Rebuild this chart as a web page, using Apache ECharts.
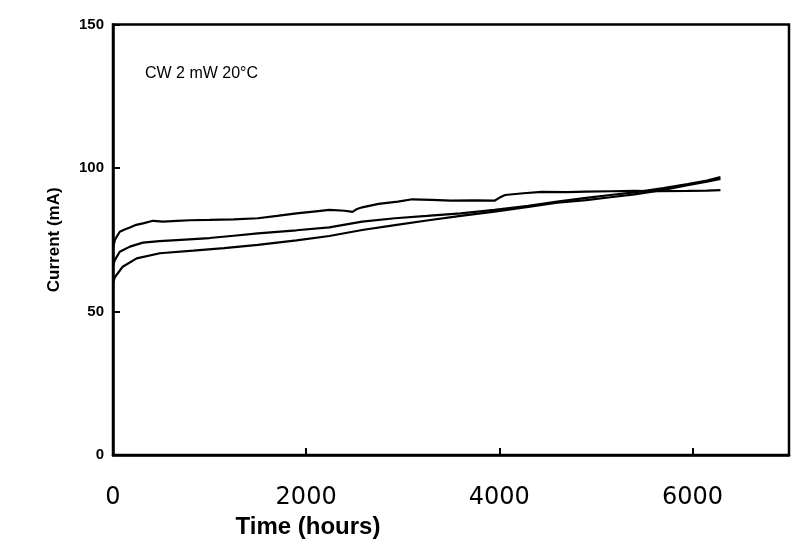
<!DOCTYPE html>
<html>
<head>
<meta charset="utf-8">
<script src="https://cdn.jsdelivr.net/npm/echarts@6/dist/echarts.min.js"></script>
<style>html,body{margin:0;padding:0;background:#fff;}#c{width:792px;height:551px;}</style>
</head>
<body>
<div id="c"></div>
<script>
// Time (hours) / Current (mA) for three devices
const hoursA   = [0, 20, 70, 120, 175, 240, 310, 415, 520, 660, 800, 1000, 1250, 1500, 1700, 1900, 2100, 2240, 2400, 2480, 2520, 2580, 2750, 2950, 3100, 3300, 3500, 3750, 3950, 4000, 4060, 4250, 4440, 4700, 4900, 5150, 5400, 5650, 5950, 6150, 6290];
const currentA = [72, 75, 77.8, 78.6, 79.3, 80.2, 80.7, 81.6, 81.3, 81.6, 81.8, 81.9, 82.1, 82.5, 83.3, 84.2, 84.9, 85.4, 85.1, 84.7, 85.6, 86.3, 87.5, 88.3, 89.1, 88.9, 88.6, 88.7, 88.6, 89.6, 90.6, 91.2, 91.7, 91.6, 91.8, 91.9, 92.0, 91.9, 92.0, 92.1, 92.3];

const hoursB   = [0, 20, 70, 175, 310, 480, 660, 1000, 1250, 1500, 1900, 2240, 2580, 2920, 3250, 3600, 3950, 4300, 4600, 4900, 5150, 5400, 5700, 5950, 6150, 6290];
const currentB = [66, 68, 70.8, 72.6, 74.0, 74.5, 74.9, 75.6, 76.4, 77.2, 78.3, 79.3, 81.3, 82.5, 83.3, 84.2, 85.4, 86.8, 88.3, 89.6, 90.6, 91.5, 93.0, 94.4, 95.6, 96.8];

const hoursC   = [0, 20, 100, 245, 485, 830, 1150, 1500, 1900, 2240, 2580, 2920, 3250, 3600, 3950, 4300, 4600, 4900, 5150, 5400, 5700, 5950, 6150, 6290];
const currentC = [60, 62, 65.6, 68.5, 70.3, 71.2, 72.1, 73.2, 74.8, 76.3, 78.4, 80.1, 81.7, 83.3, 84.8, 86.4, 87.9, 88.8, 89.8, 90.8, 92.4, 94.0, 95.2, 96.2];

const xTicks = [0, 2000, 4000, 6000];
const yTicks = [0, 50, 100, 150];
const annotation = 'CW 2 mW 20°C';

function pairs(xs, ys) { return xs.map((x, i) => [x, ys[i]]); }

const chart = echarts.init(document.getElementById('c'), null, {renderer: 'canvas'});
const lineStyle = {color: '#000', width: 2.2};
chart.setOption({
  animation: false,
  backgroundColor: '#fff',
  grid: {left: 113, right: 3, top: 24.5, bottom: 96, show: true, borderColor: '#000', borderWidth: 2.5, backgroundColor: 'transparent'},
  xAxis: {
    type: 'value', min: xTicks[0], max: 7000, interval: 2000,
    axisLine: {show: true, lineStyle: {color: '#000', width: 2.5}},
    axisTick: {show: true, inside: true, length: 7, lineStyle: {color: '#000', width: 2}},
    splitLine: {show: false},
    axisLabel: {showMaxLabel: false, margin: 31, color: '#000', fontSize: 24, fontFamily: 'DejaVu Sans', formatter: v => String(v)}
  },
  yAxis: {
    type: 'value', min: yTicks[0], max: yTicks[yTicks.length - 1], interval: 50,
    axisLine: {show: true, lineStyle: {color: '#000', width: 2.5}},
    axisTick: {show: true, inside: true, length: 7, lineStyle: {color: '#000', width: 2}},
    splitLine: {show: false},
    axisLabel: {margin: 9, color: '#000', fontSize: 15, fontWeight: 'bold', fontFamily: 'Liberation Sans', formatter: v => String(v)},
    name: 'Current (mA)', nameLocation: 'middle', nameGap: 50, nameRotate: 90,
    nameTextStyle: {color: '#000', fontSize: 17, fontWeight: 'bold', fontFamily: 'Liberation Sans'}
  },
  graphic: [
    {type: 'text', left: 145, top: 66, style: {text: annotation, fill: '#000', font: '16px "Liberation Sans"'}},
    {type: 'text', x: 308, y: 527, style: {text: 'Time (hours)', fill: '#000', font: 'bold 24px "Liberation Sans"', textAlign: 'center', textVerticalAlign: 'middle'}}
  ],
  series: [
    {type: 'line', data: pairs(hoursA, currentA), showSymbol: false, lineStyle: lineStyle, itemStyle: {color: '#000'}},
    {type: 'line', data: pairs(hoursB, currentB), showSymbol: false, lineStyle: lineStyle, itemStyle: {color: '#000'}},
    {type: 'line', data: pairs(hoursC, currentC), showSymbol: false, lineStyle: lineStyle, itemStyle: {color: '#000'}}
  ]
});
</script>
</body>
</html>
